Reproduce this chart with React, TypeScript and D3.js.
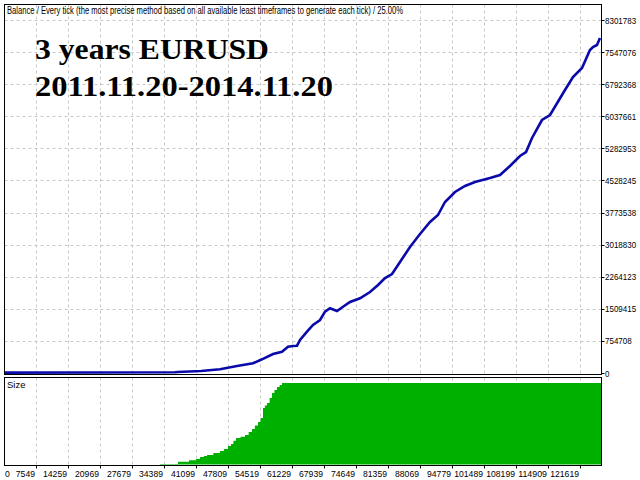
import React from "react";
import * as d3 from "d3";

// Balance curve: trade number vs balance
const balTrade = [210, 20130, 35860, 36490, 41310, 45290, 48860, 52210, 54100, 56410, 58290, 59550, 60600, 61440, 62070, 63540, 64800, 66270, 67310, 68360, 69830, 71090, 72560, 74650, 76750, 78430, 79900, 81360, 83040, 85130, 87230, 89330, 91000, 92470, 94570, 96670, 98760, 101910, 104000, 106100, 108200, 109460, 110720, 112810, 114490, 115120, 117630, 119310, 121200, 122870, 123500, 124340, 124970];
const balValue = [10000, 12000, 16000, 24000, 47000, 87000, 165000, 228000, 322000, 447000, 501000, 619000, 635000, 642000, 776000, 971000, 1129000, 1246000, 1442000, 1522000, 1458000, 1559000, 1670000, 1757000, 1905000, 2070000, 2234000, 2328000, 2611000, 2963000, 3269000, 3551000, 3716000, 4022000, 4257000, 4398000, 4492000, 4586000, 4657000, 4868000, 5103000, 5197000, 5527000, 5950000, 6068000, 6185000, 6656000, 6961000, 7173000, 7596000, 7667000, 7714000, 7879000];

// Lot size: trade number vs size
const sizeTrade = [32710, 36490, 38800, 40260, 41100, 41900, 42570, 43900, 45290, 46100, 46970, 47600, 48100, 48650, 49600, 50540, 51300, 52000, 52600, 53260, 53800, 54310, 54700, 55150, 55700, 56200, 56700, 57250, 57800, 58300, 125200];
const sizeValue = [0.3, 1.7, 2.6, 3.4, 4.6, 5.2, 5.8, 7.0, 8.3, 9.5, 11.3, 12.6, 14.5, 16.3, 17.0, 18.1, 19.9, 21.8, 24.0, 26.1, 28.5, 34.7, 36.2, 37.7, 40.8, 43.9, 45.7, 47.5, 48.8, 50, 50];

const yTickLabels = ["0", "754708", "1509415", "2264123", "3018830", "3773538", "4528245", "5282953", "6037661", "6792368", "7547076", "8301783"];
const xTickLabels = ["0", "7549", "14259", "20969", "27679", "34389", "41099", "47809", "54519", "61229", "67939", "74649", "81359", "88069", "94779", "101489", "108199", "114909", "121619"];

const headerText = "Balance / Every tick (the most precise method based on all available least timeframes to generate each tick) / 25.00%";
const titleLines = ["3 years EURUSD", "2011.11.20-2014.11.20"];

const STEP = 6710;
const YSTEP = 754708;

export default function App() {
  const W = 640, H = 480;
  const left = 4.5, right = 601.5;
  const top1 = 4.5, bot1 = 374.5;
  const top2 = 377.5, bot2 = 465.5;

  const x = d3.scaleLinear().domain([0, STEP]).range([4, 36]);
  const y = d3.scaleLinear().domain([0, YSTEP * 11]).range([373, 20]);
  const ys = d3.scaleLinear().domain([0, 50]).range([464.5, 383]);

  const balData = balTrade.map((t, i) => [t, balValue[i]] as [number, number]);
  const sizeData = sizeTrade.map((t, i) => [t, sizeValue[i]] as [number, number]);

  const line = d3.line<[number, number]>().x(d => x(d[0])).y(d => y(d[1]));
  const area = d3.area<[number, number]>().x(d => x(d[0])).y0(ys(0)).y1(d => ys(d[1])).curve(d3.curveStepAfter);

  const font = "'Liberation Sans', Arial, sans-serif";
  const grid = "#c8c8c8";

  return (
    <svg width={W} height={H} style={{ position: "absolute", left: 0, top: 0, background: "#fff" }}>
      <rect x={0} y={0} width={W} height={H} fill="#fff" />
      {yTickLabels.map((_, k) => (
        k > 0 ? <line key={"hy" + k} x1={left} x2={right} y1={Math.round(y(k * YSTEP)) + 0.5} y2={Math.round(y(k * YSTEP)) + 0.5} stroke={grid} strokeDasharray="3,3" /> : null
      ))}
      {xTickLabels.map((_, k) => (
        k > 0 ? (
          <g key={"vx" + k}>
            <line x1={x(k * STEP) + 0.5} x2={x(k * STEP) + 0.5} y1={top1} y2={bot1} stroke={grid} strokeDasharray="3,3" />
            <line x1={x(k * STEP) + 0.5} x2={x(k * STEP) + 0.5} y1={top2} y2={bot2} stroke={grid} strokeDasharray="3,3" />
            <line x1={x(k * STEP) + 0.5} x2={x(k * STEP) + 0.5} y1={bot2} y2={bot2 + 3} stroke="#000" />
          </g>
        ) : null
      ))}
      <path d={area(sizeData) || ""} fill="#00b000" />
      <path d={line(balData) || ""} fill="none" stroke="#0a0aaa" strokeWidth={2.6} />
      <rect x={left} y={top1} width={right - left} height={bot1 - top1} fill="none" stroke="#000" />
      <rect x={left} y={top2} width={right - left} height={bot2 - top2} fill="none" stroke="#000" />
      <text x={7} y={14} fontFamily={font} fontSize={10} textLength={396} lengthAdjust="spacingAndGlyphs" fill="#000">{headerText}</text>
      <text x={7} y={388} fontFamily={font} fontSize={9.5} fill="#000">Size</text>
      <text x={35} y={59} fontFamily="'Liberation Serif', 'Times New Roman', serif" fontWeight="bold" fontSize={29} textLength={234} lengthAdjust="spacingAndGlyphs" fill="#000">{titleLines[0]}</text>
      <text x={35} y={96} fontFamily="'Liberation Serif', 'Times New Roman', serif" fontWeight="bold" fontSize={29} textLength={298} lengthAdjust="spacingAndGlyphs" fill="#000">{titleLines[1]}</text>
      {yTickLabels.map((lab, k) => (
        <g key={"yl" + k}>
          <line x1={right} x2={right + 3} y1={Math.round(y(k * YSTEP)) + 0.5} y2={Math.round(y(k * YSTEP)) + 0.5} stroke="#000" />
          <text x={605} y={y(k * YSTEP) + 3.5} fontFamily={font} fontSize={9} textLength={lab.length * 4.45} lengthAdjust="spacingAndGlyphs" fill="#000">{lab}</text>
        </g>
      ))}
      {xTickLabels.map((lab, k) => (
        <text key={"xl" + k} x={k === 0 ? 5 : x(k * STEP) - 1} y={477} textAnchor={k === 0 ? "start" : "end"} fontFamily={font} fontSize={9.5} textLength={lab.length * 4.8} lengthAdjust="spacingAndGlyphs" fill="#000">{lab}</text>
      ))}
    </svg>
  );
}
